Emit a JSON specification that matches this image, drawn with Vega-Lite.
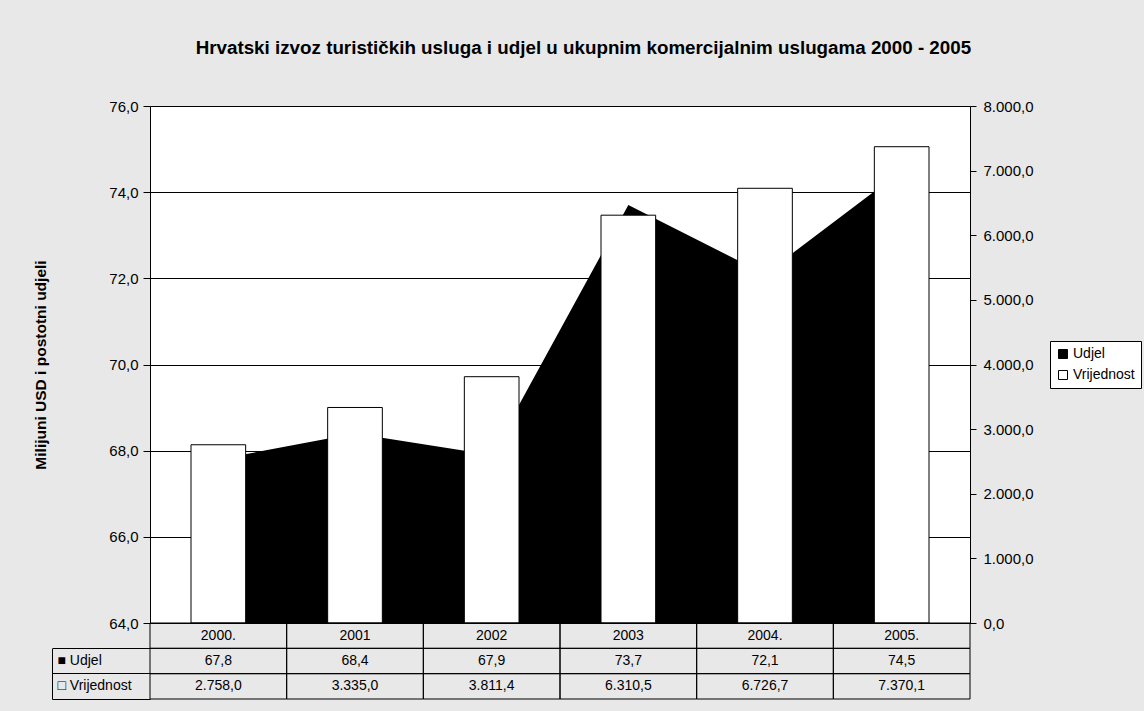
{
  "$schema": "https://vega.github.io/schema/vega-lite/v6.json",
  "background": "#e8e8e8",
  "padding": {"left": 33, "top": 38, "right": 2, "bottom": 12},
  "bounds": "flush",
  "spacing": 0,
  "config": {
    "locale": {"number": {"decimal": ",", "thousands": ".", "grouping": [3], "currency": ["", ""]}},
    "font": "Liberation Sans",
    "view": {"stroke": null},
    "axis": {"labelFont": "Liberation Sans", "titleFont": "Liberation Sans", "labelColor": "black", "titleColor": "black", "domainColor": "black", "tickColor": "black"}
  },
  "title": {"text": "Hrvatski izvoz turističkih usluga i udjel u ukupnim komercijalnim uslugama 2000 - 2005", "fontSize": 18.8, "fontWeight": "bold", "font": "Liberation Sans", "color": "black", "anchor": "middle", "offset": 41.2, "dx": -4},
  "data": {"values": [
    {"year": "2000.", "Udjel": 67.8, "Vrijednost": 2758.0},
    {"year": "2001", "Udjel": 68.4, "Vrijednost": 3335.0},
    {"year": "2002", "Udjel": 67.9, "Vrijednost": 3811.4},
    {"year": "2003", "Udjel": 73.7, "Vrijednost": 6310.5},
    {"year": "2004.", "Udjel": 72.1, "Vrijednost": 6726.7},
    {"year": "2005.", "Udjel": 74.5, "Vrijednost": 7370.1}
  ]},
  "vconcat": [
    {
      "width": 820,
      "height": 517,
      "view": {"fill": "white", "stroke": "#b8b8b8"},
      "encoding": {
        "x": {"field": "year", "type": "nominal", "sort": null,
          "scale": {"domain": ["2000.", "2001", "2002", "2003", "2004.", "2005."], "paddingInner": 0, "paddingOuter": 0},
          "axis": null}
      },
      "layer": [
        {
          "mark": {"type": "area", "interpolate": "linear", "opacity": 1},
          "encoding": {
            "y": {"field": "Udjel", "type": "quantitative",
              "scale": {"domain": [64, 76], "zero": false, "nice": false},
              "axis": {"orient": "left", "values": [64, 66, 68, 70, 72, 74, 76], "format": ".1f", "grid": true, "gridColor": "#000000", "gridWidth": 1, "tickSize": 7, "labelPadding": 5, "labelFontSize": 15, "title": "Milijuni USD i postotni udjeli", "titleFontSize": 15.5, "titleFontWeight": "bold", "titlePadding": 60}},
            "y2": {"datum": 64},
            "color": {"datum": "Udjel", "type": "nominal",
              "scale": {"domain": ["Udjel", "Vrijednost"], "range": ["#000000", "#ffffff"]},
              "legend": {"orient": "none", "legendX": 900, "legendY": 235, "title": null, "symbolType": "square", "symbolSize": 81, "symbolStrokeColor": "black", "symbolStrokeWidth": 1, "symbolOpacity": 1, "labelFontSize": 14, "labelFont": "Liberation Sans", "labelColor": "black", "labelOffset": 3, "strokeColor": "black", "fillColor": "white", "padding": 6, "rowPadding": 7}}
          }
        },
        {
          "mark": {"type": "bar", "width": {"band": 0.4}, "stroke": "black", "strokeWidth": 1},
          "encoding": {
            "y": {"field": "Vrijednost", "type": "quantitative",
              "scale": {"domain": [0, 8000], "nice": false},
              "axis": {"orient": "right", "values": [0, 1000, 2000, 3000, 4000, 5000, 6000, 7000, 8000], "format": ",.1f", "grid": false, "tickSize": 6, "labelPadding": 7, "labelFontSize": 15, "title": null}},
            "color": {"datum": "Vrijednost", "type": "nominal"}
          }
        }
      ],
      "resolve": {"scale": {"y": "independent"}}
    },
    {
      "width": 820,
      "height": 76,
      "encoding": {
        "x": {"field": "year", "type": "nominal", "sort": null,
          "scale": {"domain": ["2000.", "2001", "2002", "2003", "2004.", "2005."], "paddingInner": 0, "paddingOuter": 0},
          "axis": null}
      },
      "layer": [
        {
          "transform": [{"fold": ["Udjel", "Vrijednost"], "as": ["key", "val"]}],
          "mark": {"type": "rect", "fill": null, "filled": false, "stroke": "black", "strokeWidth": 1},
          "encoding": {
            "y": {"field": "key", "type": "nominal",
              "scale": {"domain": ["cat", "Udjel", "Vrijednost"], "paddingInner": 0, "paddingOuter": 0},
              "axis": {"orient": "left", "values": ["Udjel", "Vrijednost"], "bandPosition": 0, "tickSize": 98, "tickColor": "black", "domain": false, "grid": false, "title": null, "labelAlign": "left", "labelBaseline": "middle", "labelPadding": -5, "labelOffset": 0, "labelFontSize": 14, "labelExpr": "datum.value == 'Udjel' ? '■ Udjel' : '□ Vrijednost'"}}
          }
        },
        {
          "mark": {"type": "rect", "fill": null, "filled": false, "stroke": "black", "strokeWidth": 1},
          "encoding": {
            "y": {"datum": "cat", "type": "nominal",
              "scale": {"domain": ["cat", "Udjel", "Vrijednost"], "paddingInner": 0, "paddingOuter": 0},
              "axis": null}
          }
        },
        {
          "transform": [{"fold": ["Udjel", "Vrijednost"], "as": ["key", "val"]}],
          "mark": {"type": "text", "fontSize": 14, "color": "black", "font": "Liberation Sans"},
          "encoding": {
            "y": {"field": "key", "type": "nominal",
              "scale": {"domain": ["cat", "Udjel", "Vrijednost"], "paddingInner": 0, "paddingOuter": 0},
              "axis": null},
            "text": {"field": "val", "type": "quantitative", "format": ",.1f"}
          }
        },
        {
          "mark": {"type": "text", "fontSize": 14, "color": "black", "font": "Liberation Sans"},
          "encoding": {
            "y": {"datum": "cat", "type": "nominal",
              "scale": {"domain": ["cat", "Udjel", "Vrijednost"], "paddingInner": 0, "paddingOuter": 0},
              "axis": null},
            "text": {"field": "year", "type": "nominal"}
          }
        },
        {
          "transform": [{"fold": ["Udjel", "Vrijednost"], "as": ["key", "val"]}],
          "mark": {"type": "rect", "opacity": 0},
          "encoding": {
            "y": {"field": "key", "type": "nominal",
              "scale": {"domain": ["Udjel", "Vrijednost"], "range": [25.33, 76], "paddingInner": 0, "paddingOuter": 0},
              "axis": {"orient": "left", "offset": 98, "domain": true, "domainColor": "black", "ticks": true, "values": ["Vrijednost"], "bandPosition": 1, "tickSize": -98, "tickColor": "black", "labels": false, "grid": false, "title": null}}
          }
        }
      ],
      "resolve": {"scale": {"y": "independent"}, "axis": {"y": "independent"}}
    }
  ]
}
